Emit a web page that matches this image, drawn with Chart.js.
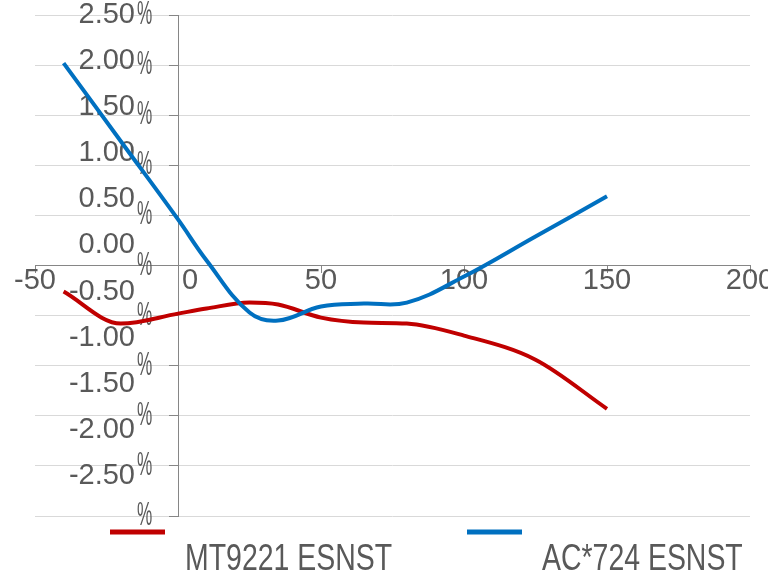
<!DOCTYPE html>
<html>
<head>
<meta charset="utf-8">
<script src="https://cdn.jsdelivr.net/npm/chart.js@4"></script>
<style>
  html, body { margin: 0; padding: 0; background: #fff; }
  #wrap { width: 768px; height: 575px; }
</style>
</head>
<body>
<div id="wrap"><canvas id="myChart"></canvas></div>
<script>
// temperature points (x) and the two deviation series, in %
const temps = [-40, -20, 0, 10, 25, 35, 50, 65, 80, 100, 125, 150];
const mtValues = [-0.26, -0.58, -0.48, -0.43, -0.37, -0.39, -0.52, -0.57, -0.58, -0.70, -0.94, -1.43];
const acValues = [2.02, 1.24, 0.46, 0.05, -0.47, -0.55, -0.41, -0.38, -0.37, -0.11, 0.29, 0.69];
const seriesNames = ['MT9221 ESNST', 'AC*724 ESNST'];
const seriesColors = ['#c00000', '#0070c0'];
const xRange = [-50, 200];
const yRange = [-2.5, 2.5];

const FONT = '"Liberation Sans", Arial, sans-serif';
const TEXT = '#595959';
const AXIS = '#868686';

const toPoints = (xs, ys) => xs.map((x, i) => ({ x: x, y: ys[i] }));

// y labels: number drifts up a bit, the % sits on the gridline (like the original)
const yLabelPlugin = {
  id: 'yLabels',
  beforeDatasetsDraw(chart) {
    const ctx = chart.ctx;
    const ys = chart.scales.y;
    const axisX = chart.scales.x.getPixelForValue(0);
    ctx.save();
    ctx.fillStyle = TEXT;
    ctx.textBaseline = 'middle';
    ys.ticks.forEach(t => {
      const py = ys.getPixelForValue(t.value);
      const ny = ys.top + (py - ys.top) * 0.92;
      ctx.font = '29px ' + FONT;
      ctx.textAlign = 'right';
      ctx.fillText(t.value.toFixed(2), axisX - 43, ny);
      ctx.save();
      ctx.translate(axisX - 41, py);
      ctx.scale(0.52, 1);
      ctx.font = '33px ' + FONT;
      ctx.textAlign = 'left';
      ctx.fillText('%', 0, 0);
      ctx.restore();
    });
    ctx.restore();
  }
};

// legend: line sample on one row, name below and to the right
const legendPlugin = {
  id: 'excelLegend',
  afterDraw(chart) {
    const ctx = chart.ctx;
    const area = chart.chartArea;
    ctx.save();
    chart.data.datasets.forEach((ds, i) => {
      const sx = 110 + i * 357;
      const sy = area.bottom + 16;
      ctx.fillStyle = ds.borderColor;
      ctx.fillRect(sx, sy - 2.5, 55, 5);
      ctx.save();
      ctx.translate(sx + 75, sy + 28);
      ctx.scale(0.79, 1);
      ctx.font = '36px ' + FONT;
      ctx.fillStyle = TEXT;
      ctx.textBaseline = 'middle';
      ctx.textAlign = 'left';
      ctx.fillText(ds.label, 0, 0);
      ctx.restore();
    });
    ctx.restore();
  }
};

const ctx = document.getElementById('myChart').getContext('2d');
new Chart(ctx, {
  type: 'scatter',
  data: {
    datasets: [{
      label: seriesNames[0],
      data: toPoints(temps, mtValues),
      borderColor: seriesColors[0],
      backgroundColor: seriesColors[0],
      borderWidth: 4,
      showLine: true,
      pointRadius: 0,
      cubicInterpolationMode: 'monotone',
      order: 1
    }, {
      label: seriesNames[1],
      data: toPoints(temps, acValues),
      borderColor: seriesColors[1],
      backgroundColor: seriesColors[1],
      borderWidth: 4,
      showLine: true,
      pointRadius: 0,
      tension: 0.4,
      order: 0
    }]
  },
  options: {
    responsive: true,
    maintainAspectRatio: false,
    animation: false,
    layout: {
      padding: { left: 35, right: 18, top: 15, bottom: 59 }
    },
    scales: {
      x: {
        type: 'linear',
        position: { y: 0 },
        min: xRange[0],
        max: xRange[1],
        afterFit: (scale) => { scale.height = 0; scale.paddingLeft = 0; scale.paddingRight = 0; },
        ticks: {
          stepSize: 50,
          autoSkip: false,
          maxRotation: 0,
          padding: -9,
          color: TEXT,
          font: { size: 29, family: FONT },
          callback: (v) => v === 0 ? '   0' : String(v)
        },
        grid: {
          display: true,
          drawOnChartArea: false,
          drawTicks: true,
          tickLength: 7,
          color: AXIS
        },
        border: { display: true, color: AXIS, width: 1 }
      },
      y: {
        type: 'linear',
        position: { x: 0 },
        min: yRange[0],
        max: yRange[1],
        afterFit: (scale) => { scale.width = 0; scale.paddingTop = 0; scale.paddingBottom = 0; },
        ticks: {
          stepSize: 0.5,
          display: false
        },
        grid: {
          color: '#d9d9d9',
          lineWidth: 1,
          drawTicks: true,
          tickLength: 9,
          tickColor: AXIS
        },
        border: { display: true, color: AXIS, width: 1 }
      }
    },
    plugins: {
      legend: { display: false },
      tooltip: { enabled: false }
    }
  },
  plugins: [yLabelPlugin, legendPlugin]
});
</script>
</body>
</html>
